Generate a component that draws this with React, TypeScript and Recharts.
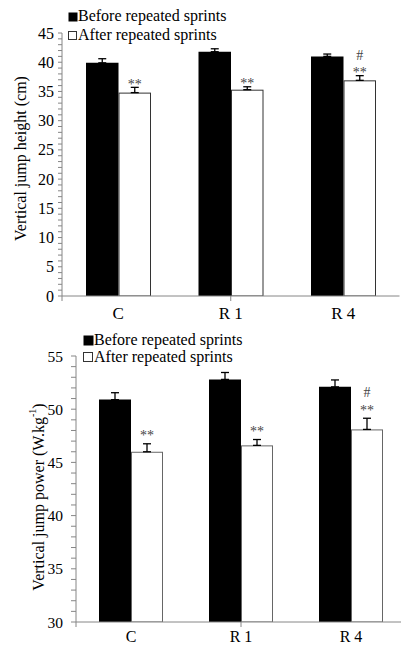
import React from 'react';
import { BarChart, Bar, XAxis, YAxis, ErrorBar, Legend } from 'recharts';

const FONT = '"Liberation Serif", "Times New Roman", serif';

const categories = ['C', 'R 1', 'R 4'];
const beforeName = 'Before repeated sprints';
const afterName = 'After repeated sprints';

const jumpHeightBefore = [39.9, 41.8, 41.0];
const jumpHeightBeforeErr = [0.7, 0.5, 0.4];
const jumpHeightAfter = [34.8, 35.3, 36.9];
const jumpHeightAfterErr = [0.9, 0.5, 0.8];

const jumpPowerBefore = [50.9, 52.8, 52.1];
const jumpPowerBeforeErr = [0.65, 0.65, 0.65];
const jumpPowerAfter = [46.0, 46.6, 48.1];
const jumpPowerAfterErr = [0.75, 0.55, 1.05];

const starMarks = ['**', '**', '**'];
const hashMarks = ['', '', '#'];

const heightTickLabels = [0, 5, 10, 15, 20, 25, 30, 35, 40, 45];
const powerTickLabels = [30, 35, 40, 45, 50, 55];
const boundaryTicks = [0, 1, 2, 3];

const allUnits = (labels: number[]) => {
  const out: number[] = [];
  for (let v = labels[0]; v <= labels[labels.length - 1]; v += 1) out.push(v);
  return out;
};

const buildRows = (before: number[], beforeErr: number[], after: number[], afterErr: number[]) =>
  categories.map((name, i) => ({
    name,
    before: before[i],
    beforeRange: [0, beforeErr[i]],
    after: after[i],
    afterErr: afterErr[i],
    afterRange: [0, afterErr[i]],
    stars: starMarks[i],
    hash: hashMarks[i],
  }));

const heightRows = buildRows(jumpHeightBefore, jumpHeightBeforeErr, jumpHeightAfter, jumpHeightAfterErr);
const powerRows = buildRows(jumpPowerBefore, jumpPowerBeforeErr, jumpPowerAfter, jumpPowerAfterErr);

type Cfg = {
  data: any[];
  width: number;
  height: number;
  margin: any;
  yWidth: number;
  majorTicks: number[];
  label: React.ReactNode;
  labelX: number;
  labelDy: number;
  tickSize: number;
  tickMargin: number;
  tickFont: number;
  catFont: number;
  catMargin: number;
  catHeight: number;
  barSize: number;
  outline: string;
  starDy: number;
  hashDy: number;
  markFont: number;
  legendLeft: number;
  legendTop: number;
  legendFont: number;
  legendBox: number;
  legendRow: number;
};

const noTick = () => <g />;
const seriesOrder = ['before', 'after'];

function Panel(c: Cfg) {
  const lo = c.majorTicks[0];
  const hi = c.majorTicks[c.majorTicks.length - 1];
  const minor = allUnits(c.majorTicks);

  const yTick = (p: any) => {
    const v = p.payload.value;
    if (!c.majorTicks.includes(v)) return <g />;
    return (
      <text x={p.x} y={p.y} textAnchor="end" dominantBaseline="central" fontFamily={FONT} fontSize={c.tickFont} fill="#000">
        {v}
      </text>
    );
  };

  const yLabel = (p: any) => {
    const vb = p.viewBox || { x: 0, y: 0, width: 0, height: 0 };
    const cx = vb.x + c.labelX;
    const cy = vb.y + vb.height / 2 + c.labelDy;
    return (
      <text
        x={cx}
        y={cy}
        transform={`rotate(-90 ${cx} ${cy})`}
        textAnchor="middle"
        dominantBaseline="central"
        fontFamily={FONT}
        fontSize={16}
        fill="#000"
      >
        {c.label}
      </text>
    );
  };

  const afterShape = (p: any) => {
    const { x, y, width, height, payload } = p;
    const ppu = height / (payload.after - lo);
    const errTop = y - payload.afterErr * ppu;
    const cx = x + width / 2;
    return (
      <g>
        <rect x={x + 0.5} y={y + 0.5} width={width - 1} height={height - 0.5} fill="#fff" stroke={c.outline} strokeWidth={1} />
        <text x={cx} y={errTop + c.starDy} textAnchor="middle" fontFamily={FONT} fontSize={c.markFont} fill="#444">
          {payload.stars}
        </text>
        {payload.hash ? (
          <text x={cx} y={errTop + c.hashDy} textAnchor="middle" fontFamily={FONT} fontSize={c.markFont} fill="#444">
            {payload.hash}
          </text>
        ) : null}
      </g>
    );
  };

  const legendContent = (p: any) => {
    const items = [...(p.payload || [])].sort(
      (a: any, b: any) => seriesOrder.indexOf(String(a.dataKey)) - seriesOrder.indexOf(String(b.dataKey))
    );
    return (
      <svg width={240} height={c.legendRow * 2 + 6} style={{ display: 'block', overflow: 'visible' }}>
        {items.map((it: any, i: number) => {
          const white = String(it.dataKey) === 'after';
          return (
            <g key={i}>
              <rect
                x={0.5}
                y={i * c.legendRow + 0.5}
                width={c.legendBox - (white ? 1 : 0)}
                height={c.legendBox - (white ? 1 : 0)}
                fill={white ? '#fff' : '#000'}
                stroke={white ? '#333' : 'none'}
              />
              <text x={c.legendBox + 1} y={i * c.legendRow + c.legendBox} fontFamily={FONT} fontSize={c.legendFont} fill="#000">
                {it.value}
              </text>
            </g>
          );
        })}
      </svg>
    );
  };

  return (
    <BarChart width={c.width} height={c.height} data={c.data} margin={c.margin} barGap={0} barSize={c.barSize}>
      <XAxis
        xAxisId="a"
        type="number"
        domain={[0, 3]}
        ticks={boundaryTicks}
        allowDataOverflow
        height={1}
        tick={noTick}
        tickSize={5}
        stroke="#868686"
      />
      <XAxis
        xAxisId="b"
        dataKey="name"
        height={c.catHeight}
        axisLine={false}
        tickLine={false}
        tickSize={0}
        tickMargin={c.catMargin}
        interval={0}
        tick={{ fontFamily: FONT, fontSize: c.catFont, fill: '#000' }}
      />
      <YAxis
        domain={[lo, hi]}
        ticks={minor}
        interval={0}
        width={c.yWidth}
        tickSize={c.tickSize}
        tickMargin={c.tickMargin}
        stroke="#868686"
        tick={yTick}
        allowDataOverflow
        label={yLabel}
      />
      <Legend
        layout="horizontal"
        verticalAlign="middle"
        align="center"
        content={legendContent}
        wrapperStyle={{ left: c.legendLeft, top: c.legendTop, width: 240 }}
      />
      <Bar xAxisId="b" dataKey="before" name={beforeName} fill="#000" isAnimationActive={false}>
        <ErrorBar dataKey="beforeRange" width={4} stroke="#000" strokeWidth={1.3} />
      </Bar>
      <Bar xAxisId="b" dataKey="after" name={afterName} fill="#fff" shape={afterShape} isAnimationActive={false}>
        <ErrorBar dataKey="afterRange" width={4} stroke="#000" strokeWidth={1.3} />
      </Bar>
    </BarChart>
  );
}

export default function App() {
  return (
    <div style={{ position: 'absolute', left: 0, top: 0, width: 401, height: 647, overflow: 'hidden', background: '#fff' }}>
      <div style={{ position: 'absolute', left: 0, top: 0 }}>
        <Panel
          data={heightRows}
          width={401}
          height={332}
          margin={{ top: 33, right: 1.5, left: 0, bottom: 0 }}
          yWidth={62}
          majorTicks={heightTickLabels}
          label={'Vertical jump height (cm)'}
          labelX={20}
          labelDy={-6}
          tickSize={4}
          tickMargin={4}
          tickFont={16}
          catFont={17}
          catMargin={10}
          catHeight={35}
          barSize={32.5}
          outline="#333"
          starDy={1.5}
          hashDy={-15.5}
          markFont={14}
          legendLeft={68}
          legendTop={12}
          legendFont={16}
          legendBox={9}
          legendRow={19}
        />
      </div>
      <div style={{ position: 'absolute', left: 0, top: 330 }}>
        <Panel
          data={powerRows}
          width={410}
          height={317}
          margin={{ top: 26, right: 4, left: 0, bottom: 0 }}
          yWidth={76}
          majorTicks={powerTickLabels}
          label={
            <>
              {'Vertical jump power (W.kg'}
              <tspan dy={-6} fontSize={10}>
                {'-1'}
              </tspan>
              <tspan dy={6}>{')'}</tspan>
            </>
          }
          labelX={38}
          labelDy={8}
          tickSize={5}
          tickMargin={8}
          tickFont={15.5}
          catFont={16}
          catMargin={8}
          catHeight={24}
          barSize={32}
          outline="#666"
          starDy={-3.5}
          hashDy={-21}
          markFont={14}
          legendLeft={83}
          legendTop={5}
          legendFont={16}
          legendBox={10}
          legendRow={17}
        />
      </div>
    </div>
  );
}
